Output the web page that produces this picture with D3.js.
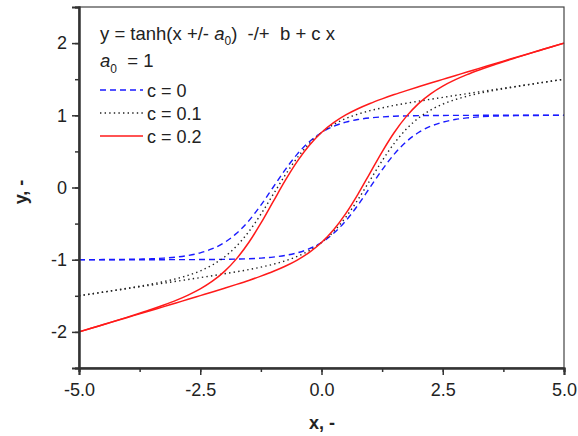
<!DOCTYPE html>
<html><head><meta charset="utf-8">
<script src="https://cdn.jsdelivr.net/npm/d3@7"></script>
<style>body{margin:0;background:#fff}svg{display:block}text{font-family:"Liberation Sans",Arial,sans-serif;fill:#222}</style>
</head><body><svg id="c" width="578" height="436"></svg>
<script>
const xs = [-5,-4.75,-4.5,-4.25,-4,-3.75,-3.5,-3.25,-3,-2.75,-2.5,-2.25,-2,-1.75,-1.5,-1.25,-1,-0.75,-0.5,-0.25,0,0.25,0.5,0.75,1,1.25,1.5,1.75,2,2.25,2.5,2.75,3,3.25,3.5,3.75,4,4.25,4.5,4.75,5];
const upC0 = [-0.999,-0.999,-0.998,-0.997,-0.995,-0.992,-0.987,-0.978,-0.964,-0.941,-0.905,-0.848,-0.762,-0.635,-0.462,-0.245,0,0.245,0.462,0.635,0.762,0.848,0.905,0.941,0.964,0.978,0.987,0.992,0.995,0.997,0.998,0.999,0.999,1,1,1,1,1,1,1,1];
const dnC0 = [-1,-1,-1,-1,-1,-1,-1,-1,-0.999,-0.999,-0.998,-0.997,-0.995,-0.992,-0.987,-0.978,-0.964,-0.941,-0.905,-0.848,-0.762,-0.635,-0.462,-0.245,0,0.245,0.462,0.635,0.762,0.848,0.905,0.941,0.964,0.978,0.987,0.992,0.995,0.997,0.998,0.999,0.999];
const upC1 = [-1.499,-1.474,-1.448,-1.422,-1.395,-1.367,-1.337,-1.303,-1.264,-1.216,-1.155,-1.073,-0.962,-0.810,-0.612,-0.370,-0.1,0.170,0.412,0.610,0.762,0.873,0.955,1.016,1.064,1.103,1.137,1.167,1.195,1.222,1.248,1.274,1.299,1.325,1.35,1.375,1.4,1.425,1.45,1.475,1.5];
const dnC1 = [-1.5,-1.475,-1.45,-1.425,-1.4,-1.375,-1.35,-1.325,-1.299,-1.274,-1.248,-1.222,-1.195,-1.167,-1.137,-1.103,-1.064,-1.016,-0.955,-0.873,-0.762,-0.610,-0.412,-0.170,0.1,0.370,0.612,0.810,0.962,1.073,1.155,1.216,1.264,1.303,1.337,1.367,1.395,1.422,1.448,1.474,1.499];
const upC2 = [-1.999,-1.949,-1.898,-1.847,-1.795,-1.742,-1.687,-1.628,-1.564,-1.491,-1.405,-1.298,-1.162,-0.985,-0.762,-0.495,-0.2,0.095,0.362,0.585,0.762,0.898,1.005,1.091,1.164,1.228,1.287,1.342,1.395,1.447,1.498,1.549,1.599,1.65,1.7,1.75,1.8,1.85,1.9,1.95,2.0];
const dnC2 = [-2.0,-1.95,-1.9,-1.85,-1.8,-1.75,-1.7,-1.65,-1.599,-1.549,-1.498,-1.447,-1.395,-1.342,-1.287,-1.228,-1.164,-1.091,-1.005,-0.898,-0.762,-0.585,-0.362,-0.095,0.2,0.495,0.762,0.985,1.162,1.298,1.405,1.491,1.564,1.628,1.687,1.742,1.795,1.847,1.898,1.949,1.999];
const xTicks = [-5,-2.5,0,2.5,5];
const xTickLabels = ["-5.0","-2.5","0.0","2.5","5.0"];
const yTicks = [-2,-1,0,1,2];
const yTickLabels = ["-2","-1","0","1","2"];
const legendLabels = ["c = 0","c = 0.1","c = 0.2"];

const L=79,R=564,T=7,B=368;
const svg=d3.select("#c");
const x=d3.scaleLinear().domain([-5,5]).range([L,R]);
const y=d3.scaleLinear().domain([-2.5,2.5]).range([B,T]);

const styles=[
 {stroke:"#1a1aff",dash:"6,4",w:1.4},
 {stroke:"#222",dash:"1.4,3.2",w:1.4},
 {stroke:"#ff1a1a",dash:null,w:1.5}
];
const series=[[upC0,dnC0],[upC1,dnC1],[upC2,dnC2]];
const line=d3.line().x(d=>x(d[0])).y(d=>y(d[1])).curve(d3.curveMonotoneX);
const g=svg.append("g");
series.forEach((pair,i)=>{
  pair.forEach(arr=>{
    g.append("path").attr("d",line(xs.map((v,k)=>[v,arr[k]])))
     .attr("fill","none").attr("stroke",styles[i].stroke).attr("stroke-width",styles[i].w)
     .attr("stroke-dasharray",styles[i].dash);
  });
});

// frame
svg.append("rect").attr("x",L).attr("y",T).attr("width",R-L).attr("height",B-T)
  .attr("fill","none").attr("stroke","#444").attr("stroke-width",1.2);

// axes
const xMinor=d3.range(-5,5.01,1.25);
const yMinor=d3.range(-2.5,2.51,0.5);
const ax=svg.append("g").attr("transform",`translate(0,${B})`)
  .call(d3.axisBottom(x).tickValues(xMinor).tickSize(4).tickFormat(""));
const ax2=svg.append("g").attr("transform",`translate(0,${B})`)
  .call(d3.axisBottom(x).tickValues(xTicks).tickSize(7).tickPadding(8).tickFormat((d,i)=>xTickLabels[i]));
const ay=svg.append("g").attr("transform",`translate(${L},0)`)
  .call(d3.axisLeft(y).tickValues(yMinor).tickSize(4).tickFormat(""));
const ay2=svg.append("g").attr("transform",`translate(${L},0)`)
  .call(d3.axisLeft(y).tickValues(yTicks).tickSize(7).tickPadding(5).tickFormat((d,i)=>yTickLabels[i]));
[ax,ax2,ay,ay2].forEach(a=>{
  a.select(".domain").attr("stroke","#333").attr("stroke-width",2);
  a.selectAll(".tick line").attr("stroke","#333").attr("stroke-width",1.5);
  a.selectAll("text").style("font-size","18px").attr("fill","#222");
});

// axis titles
svg.append("text").attr("x",322).attr("y",429).attr("text-anchor","middle")
  .style("font-size","18px").style("font-weight","bold").text("x, -");
svg.append("text").attr("transform",`translate(27,192) rotate(-90)`).attr("text-anchor","middle")
  .style("font-size","18px").style("font-weight","bold").text("y, -");

// legend title
const t1=svg.append("text").attr("x",100).attr("y",40).style("font-size","18.5px");
t1.append("tspan").text("y = tanh(x +/- ");
t1.append("tspan").style("font-style","italic").text("a");
t1.append("tspan").attr("dy",5).style("font-size","12px").text("0");
t1.append("tspan").attr("dy",-5).text(")\u00a0\u00a0-/+\u00a0\u00a0b + c x");
const t2=svg.append("text").attr("x",100).attr("y",67).style("font-size","18.5px");
t2.append("tspan").style("font-style","italic").text("a");
t2.append("tspan").attr("dy",6).style("font-size","12px").text("0");
t2.append("tspan").attr("dy",-6).text("\u00a0\u00a0= 1");

legendLabels.forEach((lab,i)=>{
  const yy=90+i*23;
  svg.append("line").attr("x1",100).attr("x2",143).attr("y1",yy).attr("y2",yy)
    .attr("stroke",styles[i].stroke).attr("stroke-width",styles[i].w).attr("stroke-dasharray",styles[i].dash);
  svg.append("text").attr("x",147).attr("y",yy+7).style("font-size","18px").text(lab);
});
</script></body></html>
